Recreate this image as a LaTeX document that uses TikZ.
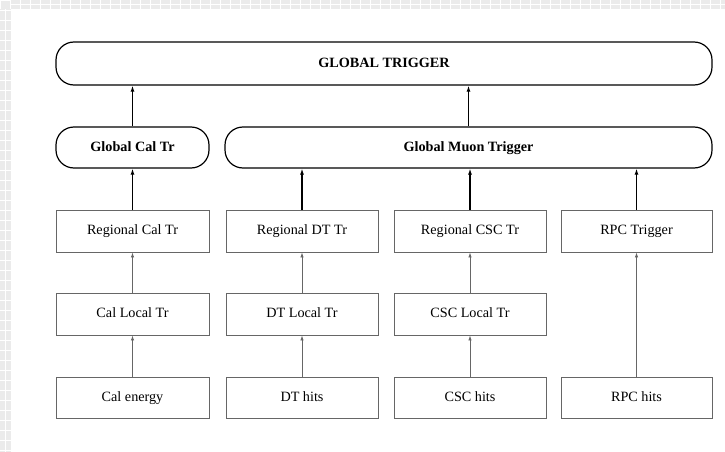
\documentclass[tikz,border=0pt]{standalone}
\usepackage{fontspec}
\setmainfont{Liberation Serif}
\usetikzlibrary{arrows.meta}
\begin{document}
\begin{tikzpicture}[x=1pt,y=-1pt,
  gbox/.style={draw=black,line width=1.2pt,rounded corners=18pt,inner sep=0pt,text height=10pt,text depth=3pt,font=\fontsize{14.2}{16}\selectfont\bfseries},
  sbox/.style={draw=black!60,line width=0.9pt,inner sep=0pt,minimum width=152pt,minimum height=42pt,text height=10pt,text depth=3pt,font=\fontsize{14.2}{16}\selectfont},
  thick arrow/.style={line width=1.2pt,-{Latex[length=6pt,width=4pt]}},
  thin arrow/.style={draw=black!60,line width=0.8pt,-{Latex[length=5pt,width=3.5pt]}}
]
\useasboundingbox (0,0) rectangle (725,452);
% checkered frame strips
\fill[black!8] (0,0) rectangle (725,9);
\fill[black!8] (0,0) rectangle (11,452);
\foreach \i in {0,10,...,720} {\draw[white,line width=0.5pt] (\i,0) -- (\i,9);}
\foreach \j in {0,10,...,450} {\draw[white,line width=0.5pt] (0,\j) -- (11,\j);}
\draw[white,line width=0.5pt] (11,4.5) -- (725,4.5);
\draw[white,line width=0.5pt] (5.5,9) -- (5.5,452);

% top rows
\node[gbox,minimum width=656pt,minimum height=43pt] (gt) at (384,63.5) {GLOBAL TRIGGER};
\node[gbox,minimum width=153pt,minimum height=41pt] (gcal) at (132.5,147.5) {Global Cal Tr};
\node[gbox,minimum width=487pt,minimum height=41pt] (gmt) at (468.5,147.5) {Global Muon Trigger};

% regional row
\node[sbox,minimum width=153pt] (rcal) at (132.5,231) {Regional Cal Tr};
\node[sbox] (rdt) at (302,231) {Regional DT Tr};
\node[sbox] (rcsc) at (470,231) {Regional CSC Tr};
\node[sbox,minimum width=151pt] (rpc) at (636.5,231) {RPC Trigger};

% local row
\node[sbox,minimum width=153pt] (lcal) at (132.5,314) {Cal Local Tr};
\node[sbox] (ldt) at (302,314) {DT Local Tr};
\node[sbox] (lcsc) at (470,314) {CSC Local Tr};

% hits row
\node[sbox,minimum width=153pt,minimum height=41pt] (hcal) at (132.5,397.5) {Cal energy};
\node[sbox,minimum height=41pt] (hdt) at (302,397.5) {DT hits};
\node[sbox,minimum height=41pt] (hcsc) at (470,397.5) {CSC hits};
\node[sbox,minimum height=41pt,minimum width=151pt] (hrpc) at (636.5,397.5) {RPC hits};

% arrows
\draw[thick arrow] (gcal.north) -- (gcal.north |- gt.south);
\draw[thick arrow] (gmt.north) -- (gmt.north |- gt.south);
\draw[thick arrow] (rcal.north) -- (rcal.north |- gcal.south);
\draw[thick arrow] (rdt.north) -- (rdt.north |- gmt.south);
\draw[thick arrow] (rcsc.north) -- (rcsc.north |- gmt.south);
\draw[thick arrow] (rpc.north) -- (rpc.north |- gmt.south);
\draw[thin arrow] (lcal) -- (rcal);
\draw[thin arrow] (ldt) -- (rdt);
\draw[thin arrow] (lcsc) -- (rcsc);
\draw[thin arrow] (hcal) -- (lcal);
\draw[thin arrow] (hdt) -- (ldt);
\draw[thin arrow] (hcsc) -- (lcsc);
\draw[thin arrow] (hrpc) -- (rpc);
\end{tikzpicture}
\end{document}
